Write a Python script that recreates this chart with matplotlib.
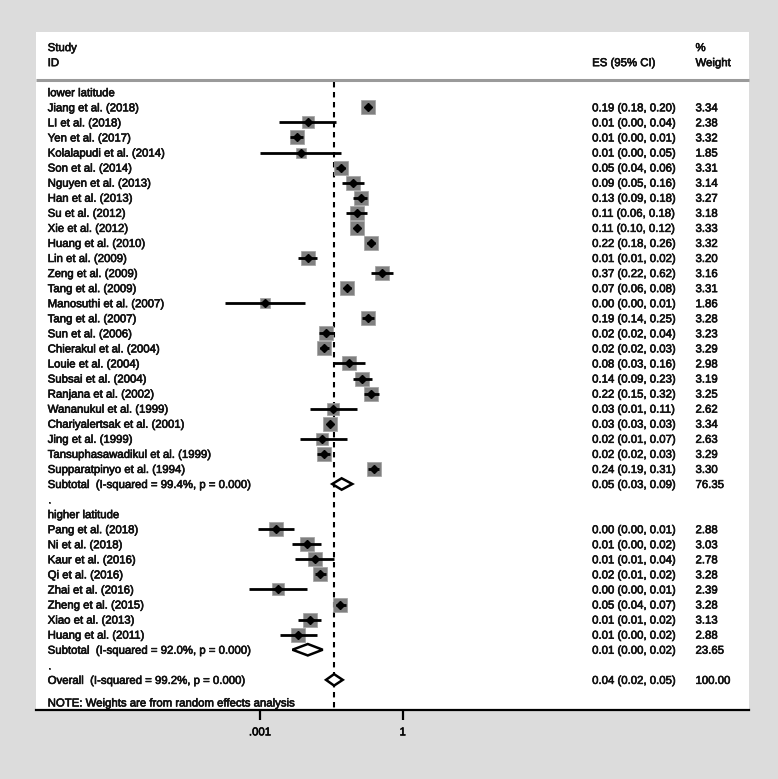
import matplotlib
matplotlib.use("Agg")
import matplotlib.pyplot as plt
import matplotlib.patheffects as pe
from matplotlib.patches import Polygon

plt.rcParams["font.family"] = ["Liberation Sans", "DejaVu Sans"]

# ---- data (ES on the ratio scale) ----
low_studies = ["Jiang et al. (2018)", "LI et al. (2018)", "Yen et al. (2017)",
               "Kolalapudi et al. (2014)", "Son et al. (2014)", "Nguyen et al. (2013)",
               "Han et al. (2013)", "Su et al. (2012)", "Xie et al. (2012)",
               "Huang et al. (2010)", "Lin et al. (2009)", "Zeng et al. (2009)",
               "Tang et al. (2009)", "Manosuthi et al. (2007)", "Tang et al. (2007)",
               "Sun et al. (2006)", "Chierakul et al. (2004)", "Louie et al. (2004)",
               "Subsai et al. (2004)", "Ranjana et al. (2002)", "Wananukul et al. (1999)",
               "Chariyalertsak et al. (2001)", "Jing et al. (1999)",
               "Tansuphasawadikul et al. (1999)", "Supparatpinyo et al. (1994)"]
low_es = [0.19, 0.010, 0.0059, 0.0072, 0.050, 0.092, 0.13, 0.108, 0.11, 0.22,
          0.010, 0.37, 0.068, 0.0013, 0.19, 0.024, 0.022, 0.076, 0.14, 0.22,
          0.034, 0.030, 0.020, 0.022, 0.245]
low_lo = [0.18, 0.0025, 0.0043, 0.0010, 0.040, 0.052, 0.09, 0.064, 0.10, 0.18,
          0.0064, 0.22, 0.06, 0.00018, 0.14, 0.017, 0.018, 0.035, 0.09, 0.15,
          0.011, 0.026, 0.007, 0.016, 0.19]
low_hi = [0.20, 0.039, 0.0080, 0.050, 0.060, 0.155, 0.18, 0.175, 0.12, 0.26,
          0.016, 0.62, 0.08, 0.0088, 0.25, 0.036, 0.028, 0.16, 0.23, 0.32,
          0.11, 0.034, 0.068, 0.030, 0.31]
low_ci_txt = ["0.19 (0.18, 0.20)", "0.01 (0.00, 0.04)", "0.01 (0.00, 0.01)",
              "0.01 (0.00, 0.05)", "0.05 (0.04, 0.06)", "0.09 (0.05, 0.16)",
              "0.13 (0.09, 0.18)", "0.11 (0.06, 0.18)", "0.11 (0.10, 0.12)",
              "0.22 (0.18, 0.26)", "0.01 (0.01, 0.02)", "0.37 (0.22, 0.62)",
              "0.07 (0.06, 0.08)", "0.00 (0.00, 0.01)", "0.19 (0.14, 0.25)",
              "0.02 (0.02, 0.04)", "0.02 (0.02, 0.03)", "0.08 (0.03, 0.16)",
              "0.14 (0.09, 0.23)", "0.22 (0.15, 0.32)", "0.03 (0.01, 0.11)",
              "0.03 (0.03, 0.03)", "0.02 (0.01, 0.07)", "0.02 (0.02, 0.03)",
              "0.24 (0.19, 0.31)"]
low_w = [3.34, 2.38, 3.32, 1.85, 3.31, 3.14, 3.27, 3.18, 3.33, 3.32, 3.20, 3.16,
         3.31, 1.86, 3.28, 3.23, 3.29, 2.98, 3.19, 3.25, 2.62, 3.34, 2.63, 3.29, 3.30]

high_studies = ["Pang et al. (2018)", "Ni et al. (2018)", "Kaur et al. (2016)",
                "Qi et al. (2016)", "Zhai et al. (2016)", "Zheng et al. (2015)",
                "Xiao et al. (2013)", "Huang et al. (2011)"]
high_es = [0.0022, 0.0096, 0.014, 0.018, 0.0024, 0.048, 0.011, 0.0064]
high_lo = [0.0009, 0.0048, 0.0054, 0.014, 0.0006, 0.040, 0.0064, 0.0026]
high_hi = [0.0053, 0.019, 0.036, 0.024, 0.0096, 0.065, 0.019, 0.016]
high_ci_txt = ["0.00 (0.00, 0.01)", "0.01 (0.00, 0.02)", "0.01 (0.01, 0.04)",
               "0.02 (0.01, 0.02)", "0.00 (0.00, 0.01)", "0.05 (0.04, 0.07)",
               "0.01 (0.01, 0.02)", "0.01 (0.00, 0.02)"]
high_w = [2.88, 3.03, 2.78, 3.28, 2.39, 3.28, 3.13, 2.88]

# pooled: lower subtotal, higher subtotal, overall
pool_labels = ["Subtotal  (I-squared = 99.4%, p = 0.000)",
               "Subtotal  (I-squared = 92.0%, p = 0.000)",
               "Overall  (I-squared = 99.2%, p = 0.000)"]
pool_es = [0.052, 0.0101, 0.036]
pool_lo = [0.033, 0.0048, 0.0244]
pool_hi = [0.087, 0.0208, 0.0548]
pool_ci_txt = ["0.05 (0.03, 0.09)", "0.01 (0.00, 0.02)", "0.04 (0.02, 0.05)"]
pool_w = ["76.35", "23.65", "100.00"]

# ---- layout (rows from the top) ----
low_rows = list(range(1, 26))
high_rows = list(range(29, 37))
pool_rows = [26, 37, 39]

fig = plt.figure(figsize=(7.78, 7.79), dpi=100)
fig.patch.set_facecolor("#dcdcdc")
ax = fig.add_axes([36 / 778, 1 - 710 / 779, 713 / 778, 678 / 779])
ax.set_facecolor("white")
ax.set_xscale("log")
ax.set_xlim(10 ** -7.71, 10 ** 7.28)
ax.set_ylim(41, -4)

fs = 8.2
heavy = [pe.withStroke(linewidth=0.45, foreground="#111111")]
tr = ax.get_yaxis_transform()  # x in axes fraction, y in rows
x_name, x_ci, x_w = 0.0164, 0.780, 0.925


def txt(x, y, s, **kw):
    ax.text(x, y, s, transform=tr, fontsize=fs, va="center_baseline", ha="left",
            color="#111111", path_effects=heavy, **kw)


txt(x_name, -3, "Study")
txt(x_name, -2, "ID")
txt(x_ci, -2, "ES (95% CI)")
txt(x_w, -3, "%")
txt(x_w, -2, "Weight")
ax.plot([0, 1], [-0.82, -0.82], transform=tr, color="#9a9a9a", lw=2.2,
        solid_capstyle="butt", clip_on=False)

txt(x_name, 0, "lower latitude")
txt(x_name, 28, "higher latitude")
txt(x_name, 27, ".")
txt(x_name, 38, ".")
txt(x_name, 40.5, "NOTE: Weights are from random effects analysis")

# dashed line at the overall estimate
ax.plot([pool_es[2], pool_es[2]], [-0.68, 41], color="black", lw=1.5,
        dashes=(2.6, 2.2), zorder=1)


def draw_group(rows, names, es, lo, hi, ci_txt, w):
    for r, n, e, l, h, c, wt in zip(rows, names, es, lo, hi, ci_txt, w):
        ax.scatter([e], [r], marker="s", s=32 * wt, color="#808080",
                   edgecolor="#a0a0a0", linewidths=0.5, zorder=2)
        ax.plot([l, h], [r, r], color="black", lw=2.0, solid_capstyle="butt", zorder=3)
        ax.plot([e], [r], marker="D", ms=4.2, color="black", zorder=4)
        txt(x_name, r, n)
        txt(x_ci, r, c)
        txt(x_w, r, "%.2f" % wt)


draw_group(low_rows, low_studies, low_es, low_lo, low_hi, low_ci_txt, low_w)
draw_group(high_rows, high_studies, high_es, high_lo, high_hi, high_ci_txt, high_w)

for r, lab, e, l, h, c, wt in zip(pool_rows, pool_labels, pool_es, pool_lo,
                                  pool_hi, pool_ci_txt, pool_w):
    hh = 0.38
    ax.add_patch(Polygon([(l, r), (e, r - hh), (h, r), (e, r + hh)], closed=True,
                         facecolor="white", edgecolor="black", lw=1.8, zorder=5))
    txt(x_name, r, lab)
    txt(x_ci, r, c)
    txt(x_w, r, wt)

# axes styling
for side in ["top", "left", "right"]:
    ax.spines[side].set_visible(False)
ax.spines["bottom"].set_linewidth(1.6)
ax.set_yticks([])
ax.set_xticks([0.001, 1])
ax.set_xticklabels([".001", "1"])
ax.minorticks_off()
ax.tick_params(axis="x", length=7.5, width=1.6, labelsize=fs, pad=5)
for lab in ax.get_xticklabels():
    lab.set_path_effects(heavy)

fig.savefig("out.png", dpi=100, facecolor=fig.get_facecolor())
